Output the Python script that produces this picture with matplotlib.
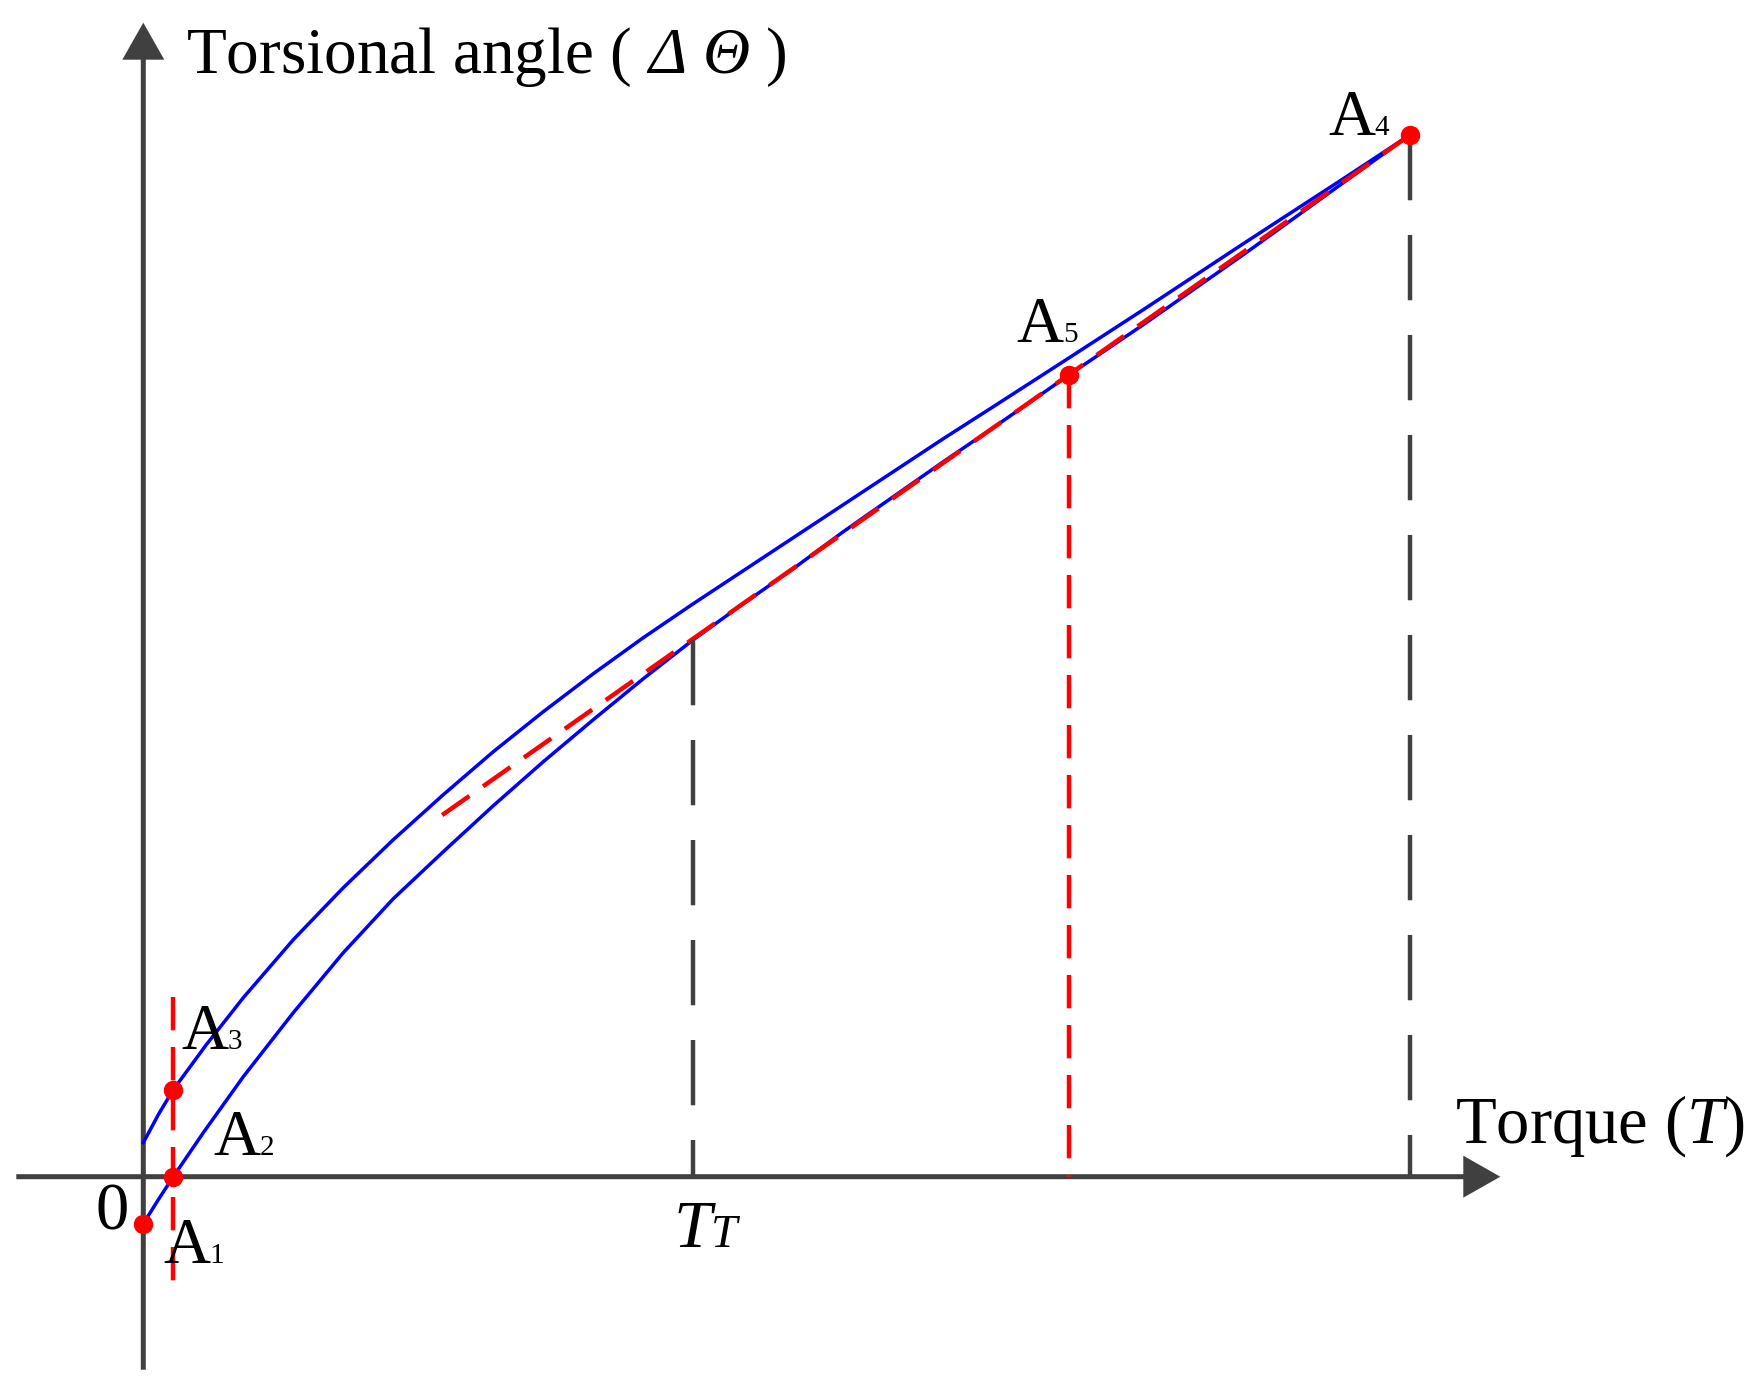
import matplotlib.pyplot as plt

plt.rcParams['lines.scale_dashes'] = False
plt.rcParams['mathtext.fontset'] = 'custom'
plt.rcParams['mathtext.rm'] = 'Liberation Serif:italic'
plt.rcParams['mathtext.it'] = 'Liberation Serif:italic'

# hysteresis branches (torque, torsional angle), arbitrary units
t_up = [0.00, 0.15, 0.30, 0.63, 1.00, 1.50, 2.00, 2.50, 3.00, 3.50, 4.00, 4.50, 5.00,
        5.50, 6.00, 6.50, 7.00, 7.50, 8.00, 8.50, 9.26, 10.00, 11.00, 12.00, 12.67]
a_up = [0.34, 0.62, 0.87, 1.32, 1.79, 2.37, 2.89, 3.37, 3.82, 4.25, 4.65, 5.03, 5.39,
        5.73, 6.06, 6.39, 6.72, 7.05, 7.38, 7.70, 8.19, 8.67, 9.33, 9.98, 10.42]
t_low = [0.00, 0.15, 0.30, 0.60, 1.00, 1.50, 2.00, 2.50, 3.00, 3.50, 4.00, 4.50, 5.00,
         5.50, 6.00, 6.50, 7.00, 7.50, 8.00, 8.50, 9.26, 10.00, 11.00, 12.00, 12.67]
a_low = [-0.47, -0.23, 0.00, 0.44, 1.00, 1.64, 2.24, 2.78, 3.25, 3.71, 4.15, 4.57, 4.98,
         5.37, 5.73, 6.08, 6.45, 6.80, 7.15, 7.49, 8.02, 8.52, 9.22, 9.94, 10.42]

# marked points A1..A5
pt_names = ['1', '2', '3', '4', '5']
pt_t = [0.00, 0.30, 0.30, 12.67, 9.26]
pt_a = [-0.47, 0.00, 0.87, 10.42, 8.02]

# T_T point and start of the secant line
tt = [5.50, 5.37]
chord_start = [2.88, 3.54]

AX = '#404040'
RED = '#ff0000'
BLUE = '#0000ff'

fig = plt.figure(figsize=(17.52, 13.94), dpi=100)
ax = fig.add_axes([0, 0, 1, 1])
ax.set_xlim(-1.433, 16.087)
ax.set_ylim(-2.173, 11.767)
ax.axis('off')

# axes with arrows
ax.arrow(-1.27, 0, 14.84, 0, width=0.05, head_width=0.42, head_length=0.37,
         length_includes_head=True, color=AX, lw=0, zorder=2)
ax.arrow(0, -1.93, 0, 13.47, width=0.05, head_width=0.42, head_length=0.37,
         length_includes_head=True, color=AX, lw=0, zorder=2)

# curves
ax.plot(t_up, a_up, color=BLUE, lw=2.5, zorder=3)
ax.plot(t_low, a_low, color=BLUE, lw=2.5, zorder=3)

red_dash = (0, (24, 12))
black_dash = (0, (47, 25))

# secant A4 -> start
ax.plot([pt_t[3], chord_start[0]], [pt_a[3], chord_start[1]], color=RED, lw=3.2,
        linestyle=red_dash, zorder=4)
# red verticals
ax.plot([0.30, 0.30], [1.80, -1.05], color=RED, lw=3.2, linestyle=red_dash, zorder=4)
ax.plot([pt_t[4], pt_t[4]], [pt_a[4], 0], color=RED, lw=3.2, linestyle=red_dash, zorder=4)
# black verticals
ax.plot([tt[0], tt[0]], [tt[1], 0], color=AX, lw=3.2, linestyle=black_dash, zorder=4)
ax.plot([pt_t[3], pt_t[3]], [pt_a[3], 0], color=AX, lw=3.2, linestyle=black_dash, zorder=4)

# points
ax.plot(pt_t, pt_a, 'o', color=RED, ms=13, zorder=6)

serif = 'Liberation Serif'


def label_A(x, y, n):
    ax.text(x, y, 'A', fontsize=47, family=serif, ha='left', va='baseline', zorder=7)
    ax.annotate(n, (x, y), xytext=(33.5, 0), textcoords='offset points', fontsize=21,
                family=serif, ha='left', va='baseline', zorder=7)


label_pos = [(0.20, -0.86), (0.70, 0.22), (0.38, 1.28), (11.85, 10.42), (8.73, 8.35)]
for (lx, ly), n in zip(label_pos, pt_names):
    label_A(lx, ly, n)

ax.text(-0.31, -0.53, '0', fontsize=48, family=serif, ha='center', va='baseline')

# T_T
ax.text(5.30, -0.70, 'T', fontsize=49, family=serif, style='italic', ha='left', va='baseline')
ax.annotate('T', (5.30, -0.70), xytext=(27, 0), textcoords='offset points', fontsize=34,
            family=serif, style='italic', ha='left', va='baseline')

# axis titles
ax.text(0.43, 11.04, r'Torsional angle ( $\Delta\ \Theta$ )', fontsize=47, family=serif,
        ha='left', va='baseline')
ax.text(13.12, 0.34, r'Torque ($T$)', fontsize=48, family=serif, ha='left', va='baseline')

fig.savefig('out.png', dpi=100)
